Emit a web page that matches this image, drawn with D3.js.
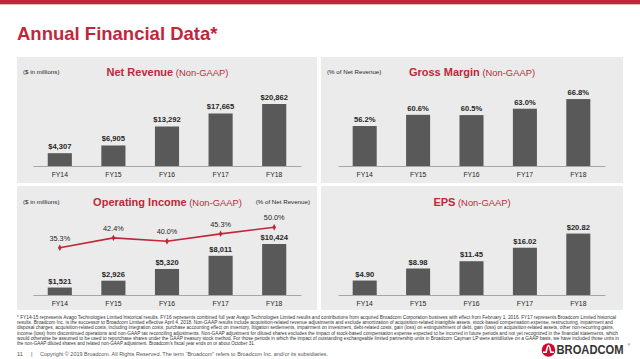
<!DOCTYPE html>
<html><head><meta charset="utf-8">
<script src="https://cdn.jsdelivr.net/npm/d3@7/dist/d3.min.js"></script>
<style>body{margin:0;background:#fff}svg{display:block;font-family:"Liberation Sans",Arial,sans-serif}</style>
</head><body><svg id="c" width="640" height="359"></svg>
<script>
const years = ["FY14","FY15","FY16","FY17","FY18"];
const netRevenue = [4307, 6905, 13292, 17665, 20862];
const grossMargin = [56.2, 60.6, 60.5, 63.0, 66.8];
const opIncome = [1521, 2926, 5320, 8011, 10424];
const opMargin = [35.3, 42.4, 40.0, 45.3, 50.0];
const eps = [4.90, 8.98, 11.45, 16.02, 20.82];
const footnoteLines = [
"* FY14-15 represents Avago Technologies Limited historical results. FY16 represents combined full year Avago Technologies Limited results and contributions from acquired Broadcom Corporation business with effect from February 1, 2016. FY17 represents Broadcom Limited historical",
"results. Broadcom Inc. is the successor to Broadcom Limited effective April 4, 2018. Non-GAAP results include acquisition-related revenue adjustments and exclude amortization of acquisition-related intangible assets, stock-based compensation expense, restructuring, impairment and",
"disposal charges, acquisition-related costs, including integration costs, purchase accounting effect on inventory, litigation settlements, impairment on investment, debt-related costs, gain (loss) on extinguishment of debt, gain (loss) on acquisition-related assets, other non-recurring gains,",
"income (loss) from discontinued operations and non-GAAP tax reconciling adjustments. Non-GAAP adjustment for diluted shares excludes the impact of stock-based compensation expense expected to be incurred in future periods and not yet recognized in the financial statements, which",
"would otherwise be assumed to be used to repurchase shares under the GAAP treasury stock method. For those periods in which the impact of outstanding exchangeable limited partnership units in Broadcom Cayman LP were antidilutive on a GAAP basis, we have included those units in",
"the non-GAAP diluted shares and related non-GAAP adjustment. Broadcom's fiscal year ends on or about October 31."
];
const footnoteWidths = [599, 596, 597, 601, 602, 238];

const RED = "#c1273a", BAR = "#595959", BG = "#ebebeb", TXT = "#262626";
const svg = d3.select("#c");

svg.append("rect").attr("x",0).attr("y",0).attr("width",640).attr("height",4).attr("fill",RED);
svg.append("rect").attr("x",0).attr("y",4).attr("width",640).attr("height",1).attr("fill","#e8b5bc");
svg.append("text").attr("x",17).attr("y",40).attr("font-size",18.5).attr("font-weight","bold")
  .attr("fill",RED).text("Annual Financial Data*");

const fmtMoney = v => "$" + d3.format(",")(v);
const fmtPct = v => d3.format(".1f")(v) + "%";
const fmtEps = v => "$" + d3.format(".2f")(v);

function panel(o){
  const g = svg.append("g");
  g.append("rect").attr("x",o.px).attr("y",o.py).attr("width",o.pw).attr("height",o.ph).attr("fill",BG);
  const x = d3.scaleBand().domain(years).range(o.xr).paddingInner(0.55).paddingOuter(0.275);
  const y = d3.scaleLinear().domain(o.yd).range(o.yr);
  g.selectAll(".bar").data(o.vals).join("rect")
    .attr("x",(d,i)=>x(years[i])).attr("width",x.bandwidth())
    .attr("y",d=>y(d)).attr("height",d=>o.yr[0]-y(d)).attr("fill",BAR);
  g.selectAll(".bl").data(o.vals).join("text")
    .attr("x",(d,i)=>x(years[i])+x.bandwidth()/2).attr("y",d=>y(d)-4)
    .attr("text-anchor","middle").attr("font-size",7.6).attr("font-weight","bold").attr("fill",TXT)
    .text(o.fmt);
  const ax = g.append("g").attr("transform",`translate(0,${o.yr[0]})`)
    .call(d3.axisBottom(x).tickSize(0).tickPadding(6));
  ax.select(".domain").attr("stroke","#a6a6a6").attr("stroke-width",1);
  ax.selectAll("text").attr("font-size",6.8).attr("fill",TXT).attr("font-family","Liberation Sans, Arial, sans-serif");
  const t = g.append("text").attr("x",o.tx).attr("y",o.ty).attr("text-anchor","middle").attr("fill",RED);
  t.append("tspan").attr("font-size",11).attr("font-weight","bold").text(o.title);
  t.append("tspan").attr("font-size",9.4).text(" (Non-GAAP)");
  if (o.unit) g.append("text").attr("x",o.px+6).attr("y",o.ty-1.5).attr("font-size",6.2).attr("fill",TXT).text(o.unit);
  return {g,x,y};
}

panel({px:17,py:57,pw:300,ph:126,xr:[33,301],yd:[0,25000],yr:[166,91.7],vals:netRevenue,fmt:fmtMoney,
  title:"Net Revenue",tx:167.5,ty:75.5,unit:"($ in millions)"});
panel({px:321,py:57,pw:302,ph:126,xr:[338,605],yd:[40.5,70],yr:[166,90.9],vals:grossMargin,fmt:fmtPct,
  title:"Gross Margin",tx:472,ty:75.5,unit:"(% of Net Revenue)"});
const op = panel({px:17,py:186,pw:300,ph:124,xr:[33,301],yd:[0,12000],yr:[295,236.3],vals:opIncome,fmt:fmtMoney,
  title:"Operating Income",tx:167.5,ty:205.5,unit:"($ in millions)"});
panel({px:321,py:186,pw:302,ph:124,xr:[338,605],yd:[0,24],yr:[295,224.2],vals:eps,fmt:fmtEps,
  title:"EPS",tx:472,ty:205.5});

// operating margin line
op.g.append("text").attr("x",310).attr("y",204).attr("text-anchor","end").attr("font-size",6.2).attr("fill",TXT).text("(% of Net Revenue)");
const yl = d3.scaleLinear().domain([0,50]).range([296.8,227.3]);
const cx = (d,i)=>op.x(years[i])+op.x.bandwidth()/2;
op.g.append("path").datum(opMargin)
  .attr("d",d3.line().x(cx).y(d=>yl(d)))
  .attr("fill","none").attr("stroke",RED).attr("stroke-width",1.6);
op.g.selectAll(".mk").data(opMargin).join("path")
  .attr("transform",(d,i)=>`translate(${cx(d,i)},${yl(d)})`)
  .attr("d",d3.symbol(d3.symbolDiamond,12)).attr("fill",RED);
op.g.selectAll(".ml").data(opMargin).join("text")
  .attr("x",cx).attr("y",d=>yl(d)-7).attr("text-anchor","middle")
  .attr("font-size",7.3).attr("fill",TXT).text(fmtPct);

// footnote
svg.append("g").selectAll("text").data(footnoteLines).join("text")
  .attr("x",17).attr("y",(d,i)=>318.5+i*5.35).attr("font-size",4.6).attr("fill","#333")
  .attr("textLength",(d,i)=>footnoteWidths[i]).attr("lengthAdjust","spacingAndGlyphs")
  .html((d,i)=> i===0 ? '<tspan fill="'+RED+'">*</tspan>'+d.slice(1).replace(/&/g,"&amp;") : d);

// footer
svg.append("text").attr("x",17).attr("y",355.5).attr("font-size",5.6).attr("fill","#555").text("11");
svg.append("text").attr("x",31).attr("y",355.5).attr("font-size",5.6).attr("fill","#555").text("|");
svg.append("text").attr("x",40).attr("y",355.5).attr("font-size",5.6).attr("fill","#555")
  .attr("textLength",288).attr("lengthAdjust","spacingAndGlyphs")
  .text("Copyright © 2019 Broadcom.  All Rights Reserved. The term \u201cBroadcom\u201d refers to Broadcom Inc. and/or its subsidiaries.");

// logo
const lg = svg.append("g").attr("transform","translate(548.5,350)");
lg.append("circle").attr("r",6.8).attr("fill","#cc092f");
lg.append("path").attr("d","M-5.5,2.2 L-2.4,2.2 C-1.5,-1 -1.2,-4.5 0,-4.5 C1.2,-4.5 1.5,-1 2.4,2.2 L5.5,2.2")
  .attr("fill","none").attr("stroke","#fff").attr("stroke-width",1.5);
svg.append("text").attr("x",556.5).attr("y",354.3).attr("font-size",12).attr("font-weight","bold")
  .attr("fill","#333").attr("textLength",67).attr("lengthAdjust","spacingAndGlyphs").text("BROADCOM");
svg.append("text").attr("x",627.5).attr("y",345.5).attr("font-size",3.5).attr("fill","#333").text("®");
</script></body></html>
